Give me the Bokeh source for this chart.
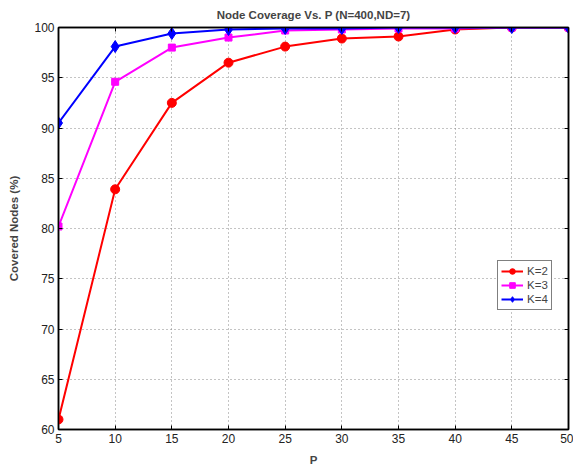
from bokeh.plotting import figure
from bokeh.models import Range1d, LinearAxis, Legend, LegendItem, FixedTicker
from bokeh.embed import file_html
from bokeh.resources import INLINE

p_values = [5, 10, 15, 20, 25, 30, 35, 40, 45, 50]
k2 = [61.0, 83.9, 92.5, 96.5, 98.1, 98.9, 99.1, 99.8, 100.0, 100.0]
k3 = [80.2, 94.6, 98.0, 99.0, 99.7, 99.8, 99.9, 99.9, 100.0, 100.0]
k4 = [90.5, 98.1, 99.4, 99.8, 99.9, 99.9, 100.0, 100.0, 100.0, 100.0]
x_ticks = [5, 10, 15, 20, 25, 30, 35, 40, 45, 50]
y_ticks = [60, 65, 70, 75, 80, 85, 90, 95, 100]

FONT = "Liberation Sans"

p = figure(width=573, height=468, output_backend="svg", toolbar_location=None,
           x_range=Range1d(5, 50), y_range=Range1d(60, 100),
           min_border_left=58, min_border_right=5, min_border_top=27, min_border_bottom=38)

p.title.text = "Node Coverage Vs. P (N=400,ND=7)"
p.title.align = "center"
p.title.text_font = FONT
p.title.text_font_size = "11.5px"
p.title.text_font_style = "bold"
p.title.offset = 0
p.title.standoff = 13

p.outline_line_color = "black"
p.outline_line_width = 1.5

for ax in (p.xaxis[0], p.yaxis[0]):
    ax.axis_line_width = 1.5
    ax.major_tick_in = 4
    ax.major_tick_out = 0
    ax.minor_tick_line_color = None
    ax.major_label_text_font = FONT
    ax.major_label_text_font_size = "12px"
    ax.major_label_text_color = "#222222"
    ax.axis_label_text_font = FONT
    ax.axis_label_text_font_size = "11.5px"
    ax.axis_label_text_font_style = "bold"

p.xaxis.ticker = FixedTicker(ticks=x_ticks)
p.yaxis.ticker = FixedTicker(ticks=y_ticks)
p.xaxis.axis_label = "P"
p.yaxis.axis_label = "Covered Nodes (%)"
p.xaxis.major_label_standoff = 4
p.yaxis.major_label_standoff = 4
p.xaxis.axis_label_standoff = 8
p.yaxis.axis_label_standoff = 11

for loc in ("right", "above"):
    ax = LinearAxis(ticker=FixedTicker(ticks=y_ticks if loc == "right" else x_ticks))
    ax.axis_line_width = 1.5
    ax.major_tick_in = 4
    ax.major_tick_out = 0
    ax.minor_tick_line_color = None
    ax.major_label_text_font_size = "0px"
    ax.major_label_text_alpha = 0
    ax.major_label_standoff = 0
    p.add_layout(ax, loc)

p.grid.grid_line_color = "#888888"
p.grid.grid_line_dash = "1 3"
p.grid.grid_line_width = 1
p.xgrid.ticker = FixedTicker(ticks=x_ticks)
p.ygrid.ticker = FixedTicker(ticks=y_ticks)

r2l = p.line(p_values, k2, line_color="red", line_width=2)
r2m = p.scatter(p_values, k2, marker="circle", size=9, fill_color="red", line_color="red")
r3l = p.line(p_values, k3, line_color="#ff00ff", line_width=2)
r3m = p.scatter(p_values, k3, marker="square", size=7, fill_color="#ff00ff", line_color="#ff00ff")
r4l = p.line(p_values, k4, line_color="blue", line_width=2)
r4m = p.scatter(p_values, k4, marker="diamond", size=12, fill_color="blue", line_color="blue")

legend = Legend(items=[
    LegendItem(label="K=2", renderers=[r2l, r2m]),
    LegendItem(label="K=3", renderers=[r3l, r3m]),
    LegendItem(label="K=4", renderers=[r4l, r4m]),
], location=(439, 119))
legend.label_text_font = FONT
legend.label_text_font_size = "11.5px"
legend.border_line_color = "black"
legend.border_line_width = 1.2
legend.padding = 3
legend.spacing = 0
legend.margin = 0
legend.glyph_width = 22
legend.glyph_height = 14
legend.label_height = 14
legend.label_standoff = 4
p.add_layout(legend, "center")

open("out.html", "w").write(file_html(p, INLINE))
